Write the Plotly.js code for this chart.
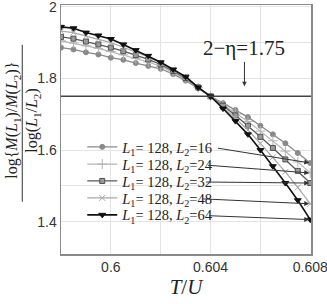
<!DOCTYPE html>
<html>
<head>
<meta charset="utf-8">
<script src="https://cdn.plot.ly/plotly-3.0.1.min.js"></script>
<style>html,body{margin:0;padding:0;background:#fff;}#chart{width:327px;height:304px;}</style>
</head>
<body>
<div id="chart"></div>
<script>
// T/U values (x)
const tU = [0.598,0.5985,0.599,0.5995,0.600,0.6005,0.601,0.6015,0.602,0.6025,0.603,0.6035,0.604,0.6045,0.605,0.6055,0.606,0.6065,0.607,0.6075,0.608];
// series values, L1 = 128
const l2_16 = [1.886,1.881,1.873,1.867,1.858,1.852,1.843,1.835,1.827,1.812,1.794,1.773,1.750,1.731,1.712,1.692,1.668,1.644,1.619,1.592,1.564];
const l2_24 = [1.905,1.899,1.891,1.884,1.875,1.866,1.856,1.846,1.834,1.817,1.798,1.774,1.750,1.727,1.704,1.680,1.653,1.626,1.597,1.567,1.536];
const l2_32 = [1.916,1.911,1.903,1.895,1.886,1.876,1.865,1.853,1.839,1.821,1.801,1.775,1.750,1.724,1.697,1.668,1.637,1.606,1.574,1.542,1.508];
const l2_48 = [1.932,1.928,1.918,1.910,1.900,1.887,1.874,1.860,1.843,1.823,1.803,1.775,1.750,1.720,1.689,1.656,1.619,1.580,1.539,1.496,1.450];
const l2_64 = [1.944,1.940,1.928,1.920,1.910,1.895,1.879,1.863,1.845,1.825,1.805,1.775,1.750,1.716,1.681,1.644,1.600,1.555,1.508,1.460,1.406];
const seriesNames = ["<i>L</i><sub>1</sub>= 128, <i>L</i><sub>2</sub>=16","<i>L</i><sub>1</sub>= 128, <i>L</i><sub>2</sub>=24","<i>L</i><sub>1</sub>= 128, <i>L</i><sub>2</sub>=32","<i>L</i><sub>1</sub>= 128, <i>L</i><sub>2</sub>=48","<i>L</i><sub>1</sub>= 128, <i>L</i><sub>2</sub>=64"];
const etaLine = 1.75;
const xTicks = [0.600,0.604,0.608];
const xTickText = ["0.6","0.604","0.608"];
const yTicks = [1.4,1.6,1.8,2.0];
const yTickText = ["1.4","1.6","1.8","2"];

const allY = [l2_16,l2_24,l2_32,l2_48,l2_64];
const styles = [
  {lc:'#8a8a8a', lw:1.3, sym:'circle', mc:'#8a8a8a', ml:'#8a8a8a', ms:5},
  {lc:'#b4b4b4', lw:1.2, sym:'cross-thin-open', mc:'#b4b4b4', ml:'#b4b4b4', ms:7},
  {lc:'#5a5a5a', lw:1.3, sym:'square', mc:'#9a9a9a', ml:'#505050', ms:5},
  {lc:'#a8a8a8', lw:1.2, sym:'x-thin-open', mc:'#a8a8a8', ml:'#a8a8a8', ms:6},
  {lc:'#111111', lw:1.6, sym:'triangle-down', mc:'#111111', ml:'#111111', ms:6}
];
const legendIds = ['legend','legend2','legend3','legend4','legend5'];
const legendY = [0.430,0.361,0.293,0.225,0.157];
const traces = allY.map((ys,i)=>({
  x: tU, y: ys, name: seriesNames[i], type:'scatter', mode:'lines+markers', legend: legendIds[i],
  line:{color:styles[i].lc, width:styles[i].lw},
  marker:{symbol:styles[i].sym, color:styles[i].mc, size:styles[i].ms, line:{color:styles[i].ml, width:1}}
}));

// arrow tails near legend text (data coords)
const tails = [[0.60424,1.606],[0.60384,1.558],[0.60376,1.511],[0.60364,1.464],[0.60388,1.417]];
const annotations = allY.map((ys,i)=>({
  x: tU[tU.length-1], y: ys[ys.length-1], xref:'x', yref:'y',
  ax: tails[i][0], ay: tails[i][1], axref:'x', ayref:'y',
  text:'', showarrow:true, arrowhead:2, arrowsize:1, arrowwidth:1, arrowcolor:'#333', standoff:1
}));
annotations.push({
  x:0.60536, y:1.778, xref:'x', yref:'y', ax:0, ay:-38,
  text:'2\u2212\u03b7=1.75', showarrow:true, arrowhead:2, arrowsize:0.9, arrowwidth:1, arrowcolor:'#333',
  font:{family:'Liberation Serif, Times New Roman, serif', size:21, color:'#222'}
});
annotations.push({
  xref:'paper', yref:'paper', x:-0.192, y:0.535, xanchor:'center', yanchor:'middle', textangle:-90, showarrow:false,
  text:'log{<i>M</i>(<i>L</i><sub>1</sub>)/<i>M</i>(<i>L</i><sub>2</sub>)}',
  font:{family:'Liberation Serif, Times New Roman, serif', size:16, color:'#222'}
});
annotations.push({
  xref:'paper', yref:'paper', x:-0.112, y:0.535, xanchor:'center', yanchor:'middle', textangle:-90, showarrow:false,
  text:'log(<i>L</i><sub>1</sub>/<i>L</i><sub>2</sub>)',
  font:{family:'Liberation Serif, Times New Roman, serif', size:16, color:'#222'}
});

const layout = {
  width:327, height:304,
  margin:{l:61, r:16, t:5, b:50},
  paper_bgcolor:'#fff', plot_bgcolor:'#fff',
  showlegend:true,
  xaxis:{range:[0.598,0.60803], tickvals:xTicks, ticktext:xTickText, ticks:'', showgrid:true,
    gridcolor:'#e4e4e4', gridwidth:1, zeroline:false, ticklabeloverflow:'allow',
    minor:{dtick:0.002, tick0:0.598, showgrid:true, gridcolor:'#e4e4e4', gridwidth:1},
    showline:true, linecolor:'#8a8a8a', linewidth:1.5, mirror:true,
    tickfont:{family:'Liberation Sans, Arial, sans-serif', size:14, color:'#333'},
    title:{text:'<i>T</i>/<i>U</i>', standoff:4, font:{family:'Liberation Serif, Times New Roman, serif', size:21, color:'#222'}}},
  yaxis:{range:[1.31,2.005], tickvals:yTicks, ticktext:yTickText, ticks:'', showgrid:true, gridcolor:'#e4e4e4', gridwidth:1,
    zeroline:false, ticklabeloverflow:'allow', minor:{dtick:0.1, tick0:1.3, showgrid:true, gridcolor:'#e4e4e4', gridwidth:1},
    showline:true, linecolor:'#8a8a8a', linewidth:1.5, mirror:true,
    tickfont:{family:'Liberation Sans, Arial, sans-serif', size:14, color:'#333'}},
  shapes:[
    {type:'line', xref:'paper', yref:'y', x0:0, x1:1, y0:etaLine, y1:etaLine, line:{color:'#444', width:1.5}},
    {type:'line', xref:'paper', yref:'paper', x0:-0.155, x1:-0.155, y0:0.21, y1:0.84, line:{color:'#333', width:1}}
  ],
  annotations: annotations
};
legendIds.forEach((id,i)=>{
  layout[id] = {x:0.085, y:legendY[i], xanchor:'left', yanchor:'middle', bgcolor:'rgba(0,0,0,0)',
    font:{family:'Liberation Serif, Times New Roman, serif', size:14.5, color:'#222'}, itemwidth:30};
});
Plotly.newPlot('chart', traces, layout, {displayModeBar:false, staticPlot:true});
</script>
</body>
</html>
